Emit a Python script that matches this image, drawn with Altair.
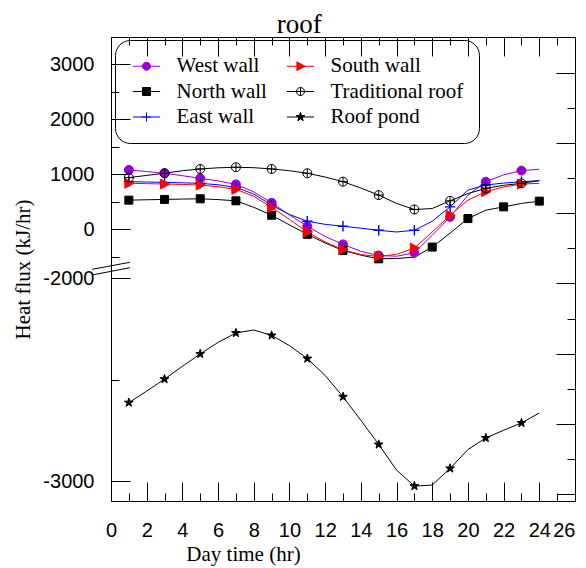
import math
import altair as alt
import pandas as pd

# ---------------- data ----------------
hours = list(range(1, 25))
series_names = ["West wall", "North wall", "East wall", "South wall", "Traditional roof", "Roof pond"]

west_wall = [1079, 1050, 1019, 975, 927, 880, 817, 680, 481, 260, 55, -130,
             -274, -400, -476, -490, -427, -110, 225, 620, 865, 990, 1067, 1092]
north_wall = [530, 537, 543, 550, 555, 540, 518, 400, 256, 80, -91, -250,
              -384, -470, -537, -530, -506, -323, -70, 195, 347, 408, 470, 512]
east_wall = [866, 860, 854, 845, 836, 810, 763, 640, 439, 270, 146, 90,
             55, 20, -18, -49, -18, 146, 408, 713, 805, 840, 866, 884]
south_wall = [836, 830, 823, 815, 805, 775, 726, 600, 397, 180, -49, -230,
              -372, -460, -494, -455, -342, -49, 256, 530, 683, 770, 823, 836]
traditional_roof = [939, 980, 1019, 1065, 1097, 1118, 1128, 1120, 1097, 1065, 1019, 950,
                    866, 750, 622, 470, 360, 378, 518, 650, 744, 800, 836, 884]
roof_pond = [-2614, -2557, -2498, -2435, -2374, -2317, -2271, -2256, -2283, -2333, -2397, -2480,
             -2585, -2701, -2820, -2946, -3025, -3020, -2938, -2845, -2788, -2750, -2714, -2665]

odd_hours = list(range(1, 24, 2))
north_marker_hours = [1, 3, 5, 7, 9, 11, 13, 15, 18, 20, 22, 24]

x_major_ticks = list(range(0, 27, 2))
x_minor_ticks = list(range(1, 26, 2))
y_major_labels = [3000, 2000, 1000, 0, -2000, -3000]
y_minor_ticks = [2500, 1500, 500, -500, -2500]

# ---------------- broken y-axis mapping (value -> display units) ----------------
PLOT_W = 464
PLOT_H = 464
UP_ZERO = 271.7      # display position of 0 in upper segment
UP_SCALE = 0.055     # display units per kJ/hr in upper segment
LO_REF = 223.0       # display position of -2000 in lower segment
LO_SCALE = 0.203     # display units per kJ/hr in lower segment
BREAK_VALUE = -1300


def to_disp(v):
    if v > BREAK_VALUE:
        return UP_ZERO + UP_SCALE * v
    return LO_REF + LO_SCALE * (v + 2000)


disp_expr = (f"datum.value > {BREAK_VALUE} ? {UP_ZERO} + {UP_SCALE} * datum.value"
             f" : {LO_REF} + {LO_SCALE} * (datum.value + 2000)")
label_split = (to_disp(0) + to_disp(-2000)) / 2
label_expr = (f"datum.value > {label_split} ? '' + round((datum.value - {UP_ZERO}) / {UP_SCALE})"
              f" : '' + round((datum.value - {LO_REF}) / {LO_SCALE} - 2000)")

y_major_disp = [to_disp(v) for v in y_major_labels]
y_minor_disp = [to_disp(v) for v in y_minor_ticks]
# right-hand frame ticks (independent, evenly spaced in the original figure)
right_major_disp = [7 + 70.2 * i for i in range(7)]
right_minor_disp = [42 + 70.2 * i for i in range(6)]

# ---------------- tables ----------------
values_by_series = dict(zip(series_names, [west_wall, north_wall, east_wall,
                                           south_wall, traditional_roof, roof_pond]))
line_df = pd.DataFrame([{"series": s, "hour": h, "value": v}
                        for s in series_names for h, v in zip(hours, values_by_series[s])])
marker_hours = {s: odd_hours for s in series_names}
marker_hours["North wall"] = north_marker_hours
marker_df = pd.DataFrame([{"series": s, "hour": h, "value": values_by_series[s][hours.index(h)]}
                          for s in series_names for h in marker_hours[s]])

# ---------------- styles ----------------
line_colors = ["#9400d3", "#000000", "#0000ff", "#ff0000", "#000000", "#000000"]
fill_colors = ["#9400d3", "#000000", "transparent", "#ff0000", "transparent", "#000000"]


def star_path(r_out=1.0, r_in=0.42):
    pts = []
    for k in range(10):
        a = -math.pi / 2 + k * math.pi / 5
        r = r_out if k % 2 == 0 else r_in
        pts.append(f"{r * math.cos(a):.3f},{r * math.sin(a):.3f}")
    return "M" + "L".join(pts) + "Z"


circle_p = "M1,0A1,1,0,1,1,-1,0A1,1,0,1,1,1,0Z"
square_p = "M-1,-1H1V1H-1Z"
tri_p = "M-0.9,-1.1L1.15,0L-0.9,1.1Z"
plus_p = "M-1.15,0H1.15M0,-1.15V1.15"
oplus_p = circle_p + "M-1,0H1M0,-1V1"
star_p = star_path(1.15, 0.45)
marker_paths = [circle_p, square_p, plus_p, tri_p, oplus_p, star_p]
marker_sizes = [80, 64, 81, 80, 81, 64]
marker_stroke_w = [1, 1, 1.4, 1, 1, 1]
leg_line = "M-3.4,0H3.4"
legend_paths = [leg_line + p for p in marker_paths]

x_scale = alt.Scale(domain=[0, 26], nice=False, zero=False)
y_scale = alt.Scale(domain=[0, PLOT_H], nice=False, zero=False)

AX = dict(grid=False, domain=False, tickColor="black", labelFlush=False)
x_label_axis = alt.Axis(orient="bottom", values=x_major_ticks, ticks=False, tickSize=0,
                        labelPadding=19, labelFont="Liberation Sans", labelFontSize=20,
                        labelColor="black",
                        labelAlign={"condition": {"test": "datum.value >= 26", "value": "right"},
                                    "value": "center"},
                        title="Day time (hr)", titlePadding=3,
                        titleX=132, titleAlign="center", **AX)
y_label_axis = alt.Axis(orient="left", values=y_major_disp, labelExpr=label_expr, ticks=False,
                        tickSize=0, labelPadding=17, labelFont="Liberation Sans", labelFontSize=20,
                        labelColor="black", title="Heat flux (kJ/hr)", titlePadding=9, **AX)


def tick_axis(orient, values, size):
    return alt.Axis(orient=orient, offset=-PLOT_W, values=values, tickSize=size, labels=False,
                    title=None, tickWidth=1, **AX)


axis_pairs = [
    (tick_axis("top", x_major_ticks, 19), tick_axis("right", y_major_disp, 19)),
    (tick_axis("top", x_minor_ticks, 8), tick_axis("right", y_minor_disp, 8)),
    (tick_axis("bottom", x_major_ticks, 19), tick_axis("left", right_major_disp, 19)),
    (tick_axis("bottom", x_minor_ticks, 8), tick_axis("left", right_minor_disp, 8)),
]


def xy(x_axis=None, y_axis=None):
    return dict(x=alt.X("hour:Q", scale=x_scale, axis=x_axis),
                y=alt.Y("disp:Q", scale=y_scale, axis=y_axis))


line_layers = []
point_layers = []
for i, name in enumerate(series_names):
    lx, ly = (x_label_axis, y_label_axis) if i == 0 else (None, None)
    line_layers.append(
        alt.Chart(line_df[line_df["series"] == name]).transform_calculate(disp=disp_expr).mark_line(
            strokeWidth=1, color=line_colors[i]
        ).encode(**xy(lx, ly))
    )
    xa, ya = axis_pairs[i] if i < len(axis_pairs) else (None, None)
    point_layers.append(
        alt.Chart(marker_df[marker_df["series"] == name]).transform_calculate(disp=disp_expr).mark_point(
            shape=marker_paths[i], size=marker_sizes[i], fill=fill_colors[i],
            stroke=line_colors[i], strokeWidth=marker_stroke_w[i], opacity=1
        ).encode(**xy(xa, ya))
    )

leg = alt.Legend(orient="none", legendX=4, legendY=3, columns=2, title=None,
                 labelFont="Liberation Serif", labelFontSize=21, labelColor="black", labelLimit=400,
                 symbolSize=64, symbolStrokeWidth=1, symbolOpacity=1, symbolOffset=5.5,
                 labelOffset=19.5, rowPadding=3.5, columnPadding=17, padding=15.5,
                 cornerRadius=15, strokeColor="black")

# legend-only layer: no visible points (filtered out), explicit scale domains keep the entries
legend_layer = alt.Chart(marker_df).transform_filter("datum.hour < 0").transform_calculate(
    disp=disp_expr
).mark_point(opacity=1).encode(
    **xy(),
    fill=alt.Fill("series:N", scale=alt.Scale(domain=series_names, range=fill_colors), legend=leg),
    stroke=alt.Stroke("series:N", scale=alt.Scale(domain=series_names, range=line_colors), legend=leg),
    shape=alt.Shape("series:N", scale=alt.Scale(domain=series_names, range=legend_paths), legend=leg),
)

# axis-break slashes across the left frame
break_df = pd.DataFrame({"bx0": [-1.06, -1.06], "bx1": [1.06, 1.06],
                         "by0": [231.7, 226.0], "by1": [238.7, 233.3]})
break_layer = alt.Chart(break_df).mark_rule(color="black", strokeWidth=1).encode(
    x=alt.X("bx0:Q", scale=x_scale, axis=None), x2="bx1:Q",
    y=alt.Y("by0:Q", scale=y_scale, axis=None), y2="by1:Q",
)

chart = alt.layer(*line_layers, *point_layers, legend_layer, break_layer).resolve_axis(
    x="independent", y="independent"
).properties(
    width=PLOT_W, height=PLOT_H,
    title=alt.TitleParams("roof", font="Liberation Serif", fontSize=27, fontWeight="normal",
                          color="black", anchor="middle", frame="bounds", offset=-2, dx=5),
    autosize=alt.AutoSizeParams(type="none"),
    padding={"left": 103, "top": 29, "right": 3, "bottom": 70},
    background="white",
).configure_view(
    stroke="black", strokeWidth=1
).configure_axis(
    titleFont="Liberation Serif", titleFontSize=21, titleFontWeight="normal", titleColor="black"
)

chart.save("out.html", embed_options={"renderer": "svg", "actions": False})
